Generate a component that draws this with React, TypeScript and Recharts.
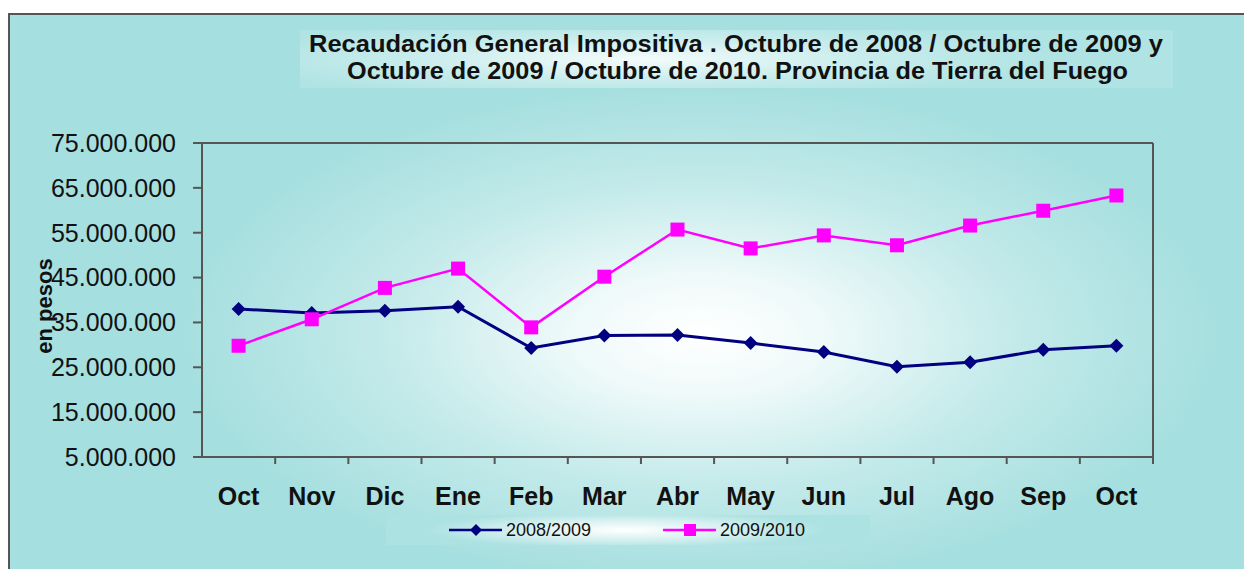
import React from "react";
import { CartesianGrid, Legend, Line, LineChart, XAxis, YAxis } from "recharts";

const meses = ["Oct", "Nov", "Dic", "Ene", "Feb", "Mar", "Abr", "May", "Jun", "Jul", "Ago", "Sep", "Oct"];
const serie0809 = [38.0, 37.1, 37.6, 38.5, 29.3, 32.1, 32.2, 30.4, 28.4, 25.1, 26.1, 28.9, 29.8];
const serie0910 = [29.8, 35.7, 42.7, 47.0, 33.9, 45.2, 55.7, 51.5, 54.4, 52.2, 56.6, 59.9, 63.3];
const yTicks = [5000000, 15000000, 25000000, 35000000, 45000000, 55000000, 65000000, 75000000];

const data = meses.map((m, i) => ({
  mes: m,
  a: Math.round(serie0809[i] * 1000000),
  b: Math.round(serie0910[i] * 1000000),
}));

const NAVY = "#000080";
const MAGENTA = "#FF00FF";
const GRID = "#555555";
const FONT = "'Liberation Sans', Arial, sans-serif";

const fmt = (v: number) => String(v).replace(/\B(?=(\d{3})+(?!\d))/g, ".");

const Diamond = (props: any) => {
  const { cx, cy } = props;
  if (cx == null || cy == null) return null;
  const r = 7;
  return <path d={`M${cx},${cy - r}L${cx + r},${cy}L${cx},${cy + r}L${cx - r},${cy}Z`} fill={NAVY} />;
};

const Square = (props: any) => {
  const { cx, cy } = props;
  if (cx == null || cy == null) return null;
  const s = 7;
  return <rect x={cx - s} y={cy - s} width={s * 2} height={s * 2} fill={MAGENTA} />;
};

const XTick = (props: any) => {
  const { x, y, payload } = props;
  const half = 36.6;
  return (
    <g>
      <line x1={x + half} y1={y - 8} x2={x + half} y2={y - 1} stroke={GRID} strokeWidth={2} />
      <text x={x} y={y + 40} textAnchor="middle" fontFamily={FONT} fontWeight="bold" fontSize={25} fill="#111">
        {payload.value}
      </text>
    </g>
  );
};

const LegendContent = () => {
  const items = [
    { label: "2008/2009", color: NAVY, kind: "d" },
    { label: "2009/2010", color: MAGENTA, kind: "s" },
  ];
  return (
    <svg width={484} height={30}>
      {items.map((it, i) => {
        const x0 = 63 + i * 214;
        return (
          <g key={it.label}>
            <line x1={x0} y1={15} x2={x0 + 53} y2={15} stroke={it.color} strokeWidth={2.5} />
            {it.kind === "d" ? (
              <path d={`M${x0 + 27},9L${x0 + 33},15L${x0 + 27},21L${x0 + 21},15Z`} fill={it.color} />
            ) : (
              <rect x={x0 + 21} y={9} width={12} height={12} fill={it.color} />
            )}
            <text x={x0 + 57} y={21} fontFamily={FONT} fontSize={18} fill="#111">
              {it.label}
            </text>
          </g>
        );
      })}
    </svg>
  );
};

export default function App() {
  return (
    <div
      style={{
        position: "absolute",
        left: 0,
        top: 0,
        width: 1244,
        height: 569,
        overflow: "hidden",
        background: "#fff",
      }}
    >
      <div
        style={{
          position: "absolute",
          left: 8,
          top: 13,
          width: 1260,
          height: 600,
          border: "2px solid #555",
          boxSizing: "border-box",
          background:
            "radial-gradient(ellipse 520px 250px at 690px 320px, #ffffff 0%, #eef9f9 25%, #c4eaea 60%, #a6dfdf 100%)",
        }}
      />
      <div
        style={{
          position: "absolute",
          left: 300,
          top: 30,
          width: 873,
          height: 58,
          background: "radial-gradient(ellipse 420px 40px at 340px 29px, #f4fbfb 0%, #c8ecec 55%, #b0e3e3 100%)",
        }}
      />
      <svg style={{ position: "absolute", left: 0, top: 0 }} width={1244} height={100}>
        <text
          x={309}
          y={52}
          fontFamily={FONT}
          fontWeight="bold"
          fontSize={24}
          fill="#111"
          textLength={854}
          lengthAdjust="spacingAndGlyphs"
        >
          Recaudación General Impositiva . Octubre de 2008 / Octubre de 2009  y
        </text>
        <text
          x={347}
          y={79}
          fontFamily={FONT}
          fontWeight="bold"
          fontSize={24}
          fill="#111"
          textLength={781}
          lengthAdjust="spacingAndGlyphs"
        >
          Octubre de 2009 / Octubre de 2010. Provincia de Tierra del Fuego
        </text>
      </svg>
      <div
        style={{
          position: "absolute",
          left: 386,
          top: 515,
          width: 484,
          height: 30,
          background: "radial-gradient(ellipse 200px 18px at 240px 15px, #ffffff 0%, #d6f0f0 55%, #ade2e2 100%)",
        }}
      />
      <div style={{ position: "absolute", left: 0, top: 0 }}>
        <LineChart width={1244} height={569} data={data} margin={{ top: 143, right: 0, left: 0, bottom: 22 }}>
          <CartesianGrid vertical={false} stroke={GRID} strokeWidth={2} strokeDasharray="" />
          <XAxis
            dataKey="mes"
            height={60}
            padding={{ left: 36.6, right: 36.6 }}
            axisLine={{ stroke: GRID, strokeWidth: 2 }}
            tickLine={false}
            tickSize={8}
            tickMargin={0}
            interval={0}
            tick={<XTick />}
          />
          <YAxis
            yAxisId="l"
            width={202}
            domain={[5000000, 75000000]}
            ticks={yTicks}
            tickFormatter={fmt}
            axisLine={{ stroke: GRID, strokeWidth: 2 }}
            tickLine={{ stroke: GRID, strokeWidth: 2 }}
            tickSize={9}
            tickMargin={17}
            tick={{ fontFamily: FONT, fontSize: 25, fill: "#111" }}
            label={{
              content: () => (
                <text
                  transform="translate(52,306) rotate(-90)"
                  textAnchor="middle"
                  fontFamily={FONT}
                  fontWeight="bold"
                  fontSize={22}
                  fill="#111"
                >
                  en pesos
                </text>
              ),
            }}
          />
          <YAxis
            yAxisId="r"
            orientation="right"
            width={91}
            domain={[5000000, 75000000]}
            ticks={yTicks}
            tick={false}
            tickLine={false}
            axisLine={{ stroke: GRID, strokeWidth: 2 }}
          />
          <Legend
            verticalAlign="bottom"
            content={<LegendContent />}
            wrapperStyle={{ position: "absolute", left: 386, top: 515, width: 484, height: 30, bottom: "auto" }}
          />
          <Line
            yAxisId="l"
            name="2008/2009"
            dataKey="a"
            stroke={NAVY}
            strokeWidth={3}
            dot={<Diamond />}
            activeDot={false}
            isAnimationActive={false}
          />
          <Line
            yAxisId="l"
            name="2009/2010"
            dataKey="b"
            stroke={MAGENTA}
            strokeWidth={2.5}
            dot={<Square />}
            activeDot={false}
            isAnimationActive={false}
          />
        </LineChart>
      </div>
    </div>
  );
}
